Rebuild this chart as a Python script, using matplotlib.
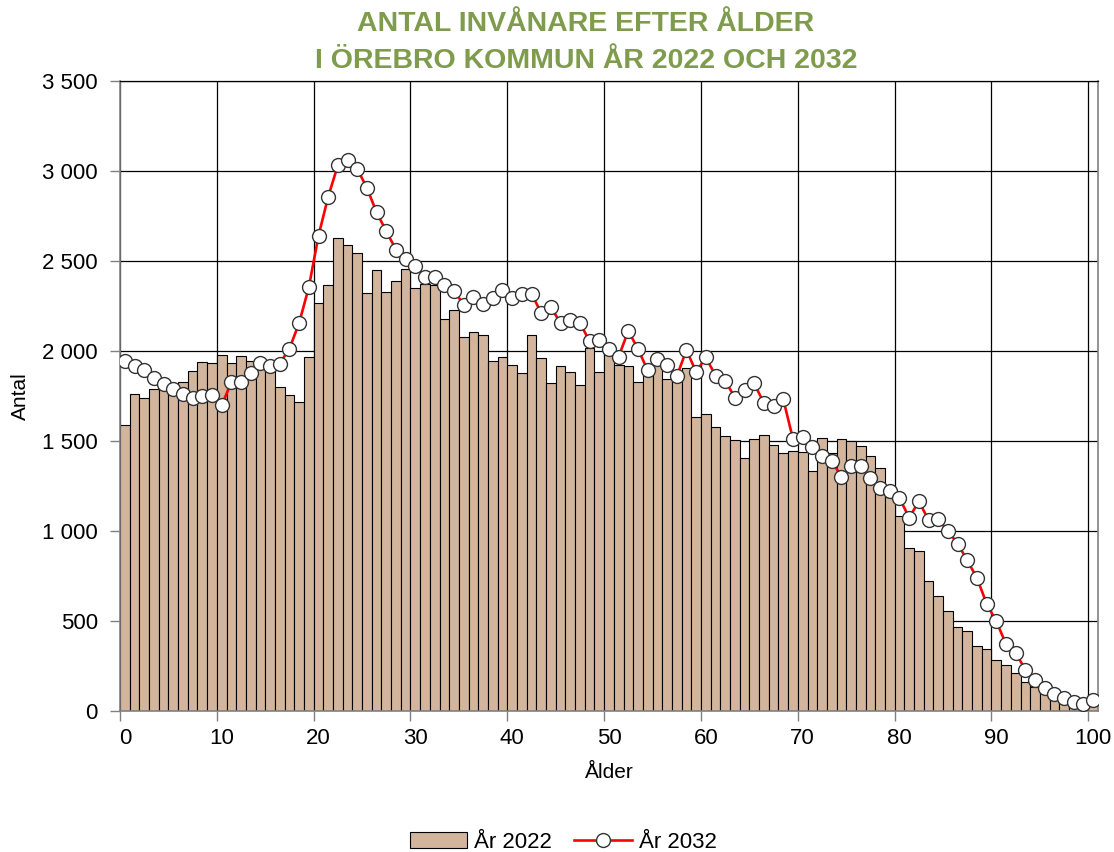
import numpy as np
import matplotlib
matplotlib.use('Agg')
import matplotlib.pyplot as plt
from matplotlib.ticker import FuncFormatter, MultipleLocator, FixedLocator
from matplotlib.patches import Patch
from matplotlib.lines import Line2D

# Antal invånare per ålder (0-100)
ages = list(range(101))

ar_2022 = [1587, 1760, 1738, 1790, 1795, 1810, 1828, 1888, 1937, 1931,
           1975, 1935, 1971, 1946, 1905, 1915, 1800, 1756, 1716, 1964,
           2265, 2367, 2626, 2589, 2544, 2320, 2448, 2328, 2389, 2457,
           2350, 2372, 2367, 2180, 2228, 2080, 2107, 2087, 1944, 1967,
           1920, 1878, 2089, 1961, 1822, 1915, 1881, 1811, 2016, 1886,
           2010, 1920, 1916, 1828, 1870, 1925, 1847, 1842, 1906, 1635,
           1650, 1580, 1530, 1507, 1407, 1511, 1535, 1480, 1431, 1446,
           1437, 1331, 1518, 1431, 1513, 1500, 1474, 1419, 1348, 1187,
           1083, 904, 891, 720, 637, 554, 465, 443, 359, 344,
           281, 254, 213, 159, 135, 98, 61, 42, 28, 17,
           33]

ar_2032 = [1946, 1918, 1893, 1852, 1817, 1789, 1759, 1741, 1750, 1754,
           1698, 1826, 1826, 1880, 1933, 1918, 1930, 2013, 2156, 2354,
           2641, 2857, 3032, 3061, 3012, 2906, 2770, 2665, 2563, 2513,
           2472, 2413, 2413, 2365, 2335, 2256, 2302, 2263, 2294, 2337,
           2294, 2317, 2319, 2211, 2244, 2154, 2174, 2157, 2053, 2060,
           2013, 1969, 2113, 2009, 1893, 1957, 1922, 1859, 2006, 1883,
           1965, 1863, 1835, 1741, 1785, 1820, 1709, 1694, 1731, 1511,
           1524, 1465, 1418, 1390, 1302, 1361, 1359, 1296, 1237, 1222,
           1183, 1074, 1165, 1061, 1065, 1000, 930, 837, 739, 596,
           498, 372, 322, 230, 174, 128, 93, 70, 48, 39,
           59]

x_labels = list(range(0, 101, 10))

bar_color = '#D2B59C'
title_color = '#7E9C4B'

plt.rcParams['font.family'] = ['Liberation Sans', 'DejaVu Sans']

fig = plt.figure(figsize=(11.14, 8.52), dpi=100)
ax = fig.add_axes([120 / 1114, 1 - 711 / 852, 978 / 1114, 630 / 852])

ax.bar(ages, ar_2022, width=1.0, color=bar_color, edgecolor='black',
       linewidth=0.8, zorder=2)
ax.plot(ages, ar_2032, color='#FF0000', linewidth=1.9, marker='o',
        markersize=10, markerfacecolor='white', markeredgecolor='#333333',
        markeredgewidth=1.0, zorder=3)

ax.set_xlim(-0.5, 100.5)
ax.set_ylim(0, 3500)

# gridlines at category borders, labels at category centres
ax.xaxis.set_major_locator(FixedLocator(np.arange(-0.5, 100, 10)))
ax.tick_params(axis='x', which='major', labelbottom=False, length=7,
               color='#808080', width=1)
ax.set_xticks(x_labels, minor=True)
ax.set_xticklabels([str(v) for v in x_labels], minor=True)
ax.tick_params(axis='x', which='minor', length=0, pad=12, labelsize=16)

ax.yaxis.set_major_locator(MultipleLocator(500))
ax.yaxis.set_major_formatter(FuncFormatter(lambda v, p: '{:,}'.format(int(v)).replace(',', ' ')))
ax.tick_params(axis='y', length=7, color='#808080', width=1, pad=9, labelsize=16)

ax.grid(True, which='major', color='black', linewidth=0.9, zorder=0)
ax.set_axisbelow(True)

for side in ['left', 'bottom', 'right']:
    ax.spines[side].set_color('#808080')
    ax.spines[side].set_linewidth(1.2)
ax.spines['top'].set_color('black')
ax.spines['top'].set_linewidth(0.9)

ax.set_xlabel('Ålder', fontsize=15, labelpad=10)
ax.set_ylabel('Antal', fontsize=15)
ax.yaxis.set_label_coords(-0.092, 0.5)

fig.text(586 / 1114, 1 - 24 / 852, 'ANTAL INVÅNARE EFTER ÅLDER', ha='center', va='center',
         fontsize=20.5, fontweight='bold', color=title_color,
         family=['Liberation Sans Narrow', 'Liberation Sans'])
fig.text(586 / 1114, 1 - 61 / 852, 'I ÖREBRO KOMMUN ÅR 2022 OCH 2032', ha='center', va='center',
         fontsize=20.5, fontweight='bold', color=title_color,
         family=['Liberation Sans Narrow', 'Liberation Sans'])

handles = [Patch(facecolor=bar_color, edgecolor='black', linewidth=0.8, label='År 2022'),
           Line2D([0], [0], color='#FF0000', linewidth=1.9, marker='o', markersize=10,
                  markerfacecolor='white', markeredgecolor='#333333', label='År 2032')]
fig.legend(handles=handles, loc='center', bbox_to_anchor=(563 / 1114, 1 - 842 / 852),
           ncol=2, frameon=False, fontsize=16, handlelength=2.6, columnspacing=1.0,
           handletextpad=0.3)

fig.savefig('out.png', dpi=100)
